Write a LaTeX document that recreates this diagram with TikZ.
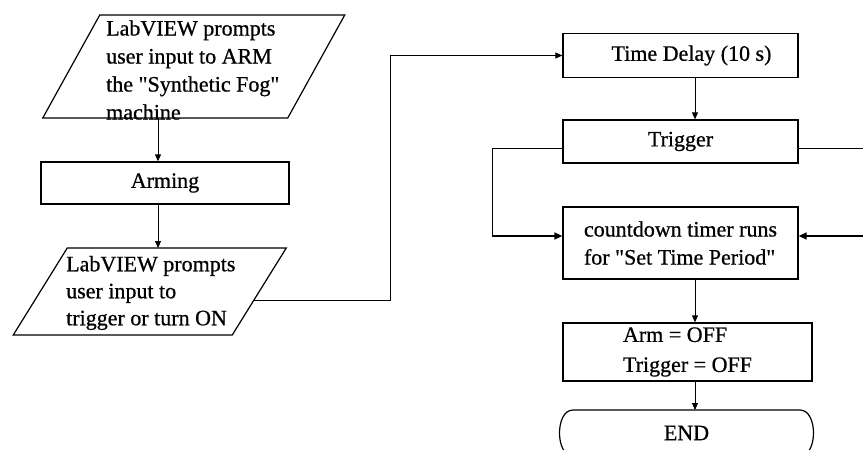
\documentclass[tikz,border=0pt]{standalone}
\usepackage{fontspec}
\setmainfont{Liberation Serif}[FakeBold=0.7]
\usetikzlibrary{arrows.meta}
\tikzset{
  conn/.style={line width=0.9pt},
  heavy/.style={line width=1.5pt},
  arr/.style={line width=0.9pt,-{Triangle[length=7pt,width=6pt]}},
  boxst/.style={draw,line width=1.3pt,rectangle,inner sep=0pt,align=center,font=\fontsize{22pt}{28pt}\selectfont},
  shp/.style={inner sep=0pt,outer sep=0pt},
  outl/.style={line width=1.2pt},
  txt/.style={align=left,inner sep=0pt,font=\fontsize{22pt}{28pt}\selectfont},
}
\begin{document}
\begin{tikzpicture}[x=1pt,y=-1pt]
\useasboundingbox (0,0) rectangle (863,450);

% ---- left column ----
\node[shp,minimum width=245pt,minimum height=103pt] (in1) at (193.75,66.5) {};
\draw[outl] ([xshift=28.5pt]in1.north west) -- ([xshift=28.5pt]in1.north east)
  -- ([xshift=-28.5pt]in1.south east) -- ([xshift=-28.5pt]in1.south west) -- cycle;
\node[txt,anchor=west] (in1t) at (106,70) {LabVIEW prompts\\user input to ARM\\the \textquotedbl Synthetic Fog\textquotedbl\\machine};

\node[boxst,minimum width=248pt,minimum height=42pt] (arming) at (165,183) {Arming};

\node[shp,minimum width=219pt,minimum height=87pt] (in2) at (149.75,291.5) {};
\draw[outl] ([xshift=27pt]in2.north west) -- ([xshift=27pt]in2.north east)
  -- ([xshift=-27pt]in2.south east) -- ([xshift=-27pt]in2.south west) -- cycle;
\node[txt,anchor=west,font=\fontsize{22pt}{27pt}\selectfont] (in2t) at (66,293) {LabVIEW prompts\\user input to\\trigger or turn ON};

\coordinate (lx) at (158,0);
\draw[arr] (lx |- in1.south) -- (lx |- arming.north);
\draw[arr] (lx |- arming.south) -- (lx |- in2.north);

% ---- right column ----
\node[boxst,minimum width=235pt,minimum height=44pt] (delay) at (680.5,55.5) {\hspace*{22pt}Time Delay (10 s)};
\node[boxst,minimum width=235pt,minimum height=43pt] (trig) at (680.5,141.5) {Trigger};
\node[boxst,minimum width=235pt,minimum height=72pt,align=left] (count) at (680.5,243) {countdown timer runs\\for \textquotedbl Set Time Period\textquotedbl};
\node[boxst,minimum width=249pt,minimum height=58pt,align=left,font=\fontsize{22pt}{30pt}\selectfont] (off) at (687.5,352) {Arm = OFF\\Trigger = OFF};
\node[shp,minimum width=227pt,minimum height=46pt,font=\fontsize{22pt}{28pt}\selectfont] (end) at (686.5,433) {END};
\draw[outl] (end.north west) -- (end.north east)
  .. controls ([xshift=18pt]end.north east) and ([xshift=18pt]end.south east) .. (end.south east)
  -- (end.south west)
  .. controls ([xshift=-18pt]end.south west) and ([xshift=-18pt]end.north west) .. (end.north west) -- cycle;

% connector from input 2 to time delay
\coordinate (s2) at ([shift={(-5pt,-8.5pt)}]in2.east);
\coordinate (jx) at (390,0);
\draw[arr] (s2) -| (jx |- delay.west) -- (delay.west);

\coordinate (rx) at (695,0);
\draw[arr] (rx |- delay.south) -- (rx |- trig.north);
\draw[arr] (rx |- count.south) -- (rx |- off.north);
\draw[arr] (rx |- off.south) -- (rx |- end.north);

% trigger branches
\coordinate (by) at (0,148);
\coordinate (cy) at (0,236);
\coordinate (lbx) at (492,0);
\coordinate (rbx) at (870,0);
\draw[conn] (trig.west |- by) -| (lbx |- cy);
\draw[heavy,-{Triangle[length=8pt,width=7pt]}] (lbx |- cy) -- (count.west |- cy);
\draw[conn] (trig.east |- by) -| (rbx |- cy);
\draw[heavy,-{Triangle[length=8pt,width=7pt]}] (rbx |- cy) -- (count.east |- cy);
\end{tikzpicture}
\end{document}
